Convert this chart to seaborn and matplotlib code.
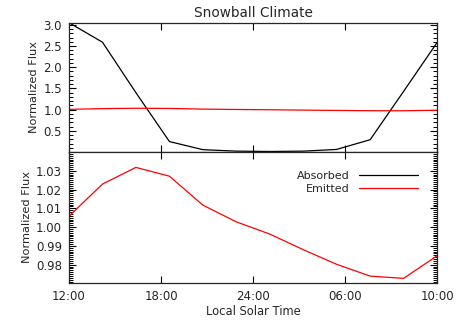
import numpy as np
import pandas as pd
import matplotlib
matplotlib.use("Agg")
import matplotlib.pyplot as plt
from matplotlib.ticker import MultipleLocator, NullLocator
import seaborn as sns

# local solar time in hours from noon (12 -> 36)
hours = [12.0, 14.18, 16.36, 18.55, 20.73, 22.91, 25.09, 27.27, 29.45, 31.64, 33.82, 36.0]
absorbed = [3.05, 2.59, 1.40, 0.246, 0.055, 0.02, 0.012, 0.02, 0.06, 0.29, 1.43, 2.58]
emitted = [1.0058, 1.0229, 1.0318, 1.0271, 1.0117, 1.0028, 0.9963, 0.9880, 0.9802, 0.9739, 0.9727, 0.9847]

tick_pos = [12, 18, 24, 30, 36]
tick_labels = ["12:00", "18:00", "24:00", "06:00", "10:00"]

df = pd.DataFrame({"hour": hours, "Absorbed": absorbed, "Emitted": emitted})

sns.set_style("ticks")
plt.rcParams["font.family"] = ["DejaVu Sans"]
plt.rcParams["xtick.direction"] = "in"
plt.rcParams["ytick.direction"] = "in"

fig = plt.figure(figsize=(4.58, 3.27), dpi=100)
ax1 = fig.add_axes([0.1507, 0.5352, 0.8035, 0.3954])
ax2 = fig.add_axes([0.1507, 0.1355, 0.8035, 0.3997])

sns.lineplot(data=df, x="hour", y="Absorbed", ax=ax1, color="black", lw=0.9, label="Absorbed")
sns.lineplot(data=df, x="hour", y="Emitted", ax=ax1, color="red", lw=0.9, label="Emitted")
sns.lineplot(data=df, x="hour", y="Emitted", ax=ax2, color="red", lw=0.9)

ax1.set_ylim(0.0, 3.05)
ax1.set_yticks([0.5, 1.0, 1.5, 2.0, 2.5, 3.0])
ax1.yaxis.set_minor_locator(MultipleLocator(0.1))
ax1.set_title("Snowball Climate", fontsize=9.8, pad=4)

ax2.set_ylim(0.9704, 1.040)
ax2.set_yticks([0.98, 0.99, 1.00, 1.01, 1.02, 1.03])
ax2.set_yticklabels(["0.98", "0.99", "1.00", "1.01", "1.02", "1.03"])
ax2.yaxis.set_minor_locator(MultipleLocator(0.001))

# tick styling goes after the locators, otherwise the y ticks vanish
for ax in (ax1, ax2):
    ax.set_xlim(12, 36)
    ax.set_xticks(tick_pos)
    ax.xaxis.set_minor_locator(NullLocator())
    ax.tick_params(which="both", direction="in", top=True, right=True, left=True, bottom=True,
                   labelsize=8.5, pad=5, color="black")
    ax.tick_params(axis="y", which="major", length=5, width=0.8)
    ax.tick_params(axis="y", which="minor", length=3, width=0.7)
    ax.tick_params(axis="x", which="major", length=5, width=0.8)
    for s in ax.spines.values():
        s.set_linewidth(0.9)
    ax.set_ylabel("Normalized Flux", fontsize=8.2, labelpad=3)

ax1.set_xticklabels([])
ax1.set_xlabel("")
ax2.set_xticklabels(tick_labels)
ax2.set_xlabel("Local Solar Time", fontsize=8.3, labelpad=2)

handles, labels = ax1.get_legend_handles_labels()
ax1.get_legend().remove()
ax2.legend(handles, labels, loc="upper right", bbox_to_anchor=(0.975, 0.93), frameon=False,
           markerfirst=False, handlelength=5.3, fontsize=8, labelspacing=0.25,
           handletextpad=0.8)
for t in ax2.get_legend().get_texts():
    t.set_ha("right")

fig.savefig("out.png", dpi=100)
